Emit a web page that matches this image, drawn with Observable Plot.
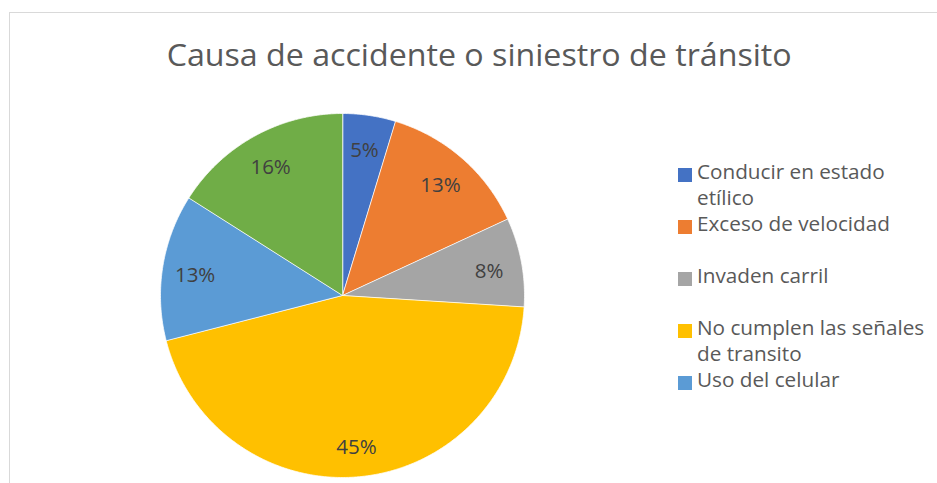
<!DOCTYPE html>
<html>
<head>
<meta charset="utf-8">
<script src="https://cdn.jsdelivr.net/npm/d3@7"></script>
<script src="https://cdn.jsdelivr.net/npm/@observablehq/plot@0.6"></script>
<style>
  html, body { margin: 0; padding: 0; background: #fff; overflow: hidden; }
  #wrap { position: relative; width: 937px; height: 483px; overflow: hidden; font-family: "Open Sans", sans-serif; }
  #frame { position: absolute; left: 9px; top: 12px; width: 1000px; height: 600px; border-left: 1.5px solid #d9d9d9; border-top: 1.5px solid #d9d9d9; box-sizing: border-box; }
  #chart { position: absolute; left: 0; top: 0; }
  #title { position: absolute; left: 11px; top: 39px; width: 937px; text-align: center; font-size: 31px; line-height: 31px; color: #595959; white-space: nowrap; }
  #title span { display: inline-block; transform-origin: center; }
  #legend { position: absolute; left: 678px; top: 150px; width: 259px; height: 252px; overflow: hidden; }
  .item { position: absolute; left: 0; }
  .sw { position: absolute; left: 0; width: 14px; height: 14px; }
  .lab { position: absolute; left: 19px; width: 238px; font-size: 21px; line-height: 26px; color: #595959; }
  #probe { position: absolute; visibility: hidden; white-space: nowrap; font-size: 21px; }
</style>
</head>
<body>
<div id="wrap">
  <div id="frame"></div>
  <div id="chart"></div>
  <div id="title"><span>Causa de accidente o siniestro de tránsito</span></div>
  <div id="legend"></div>
  <span id="probe">Exceso de velocidad</span>
</div>
<script>
// ---- data ----
const categories = [
  "Conducir en estado etílico",
  "Exceso de velocidad",
  "Invaden carril",
  "No cumplen las señales de transito",
  "Uso del celular",
  "Otros"
];
const shares = [4.7, 13.4, 7.9, 45.0, 13.0, 16.0];
const colors = ["#4472C4", "#ED7D31", "#A5A5A5", "#FFC000", "#5B9BD5", "#70AD47"];

// ---- build slice polygons (angles clockwise from 12 o'clock) ----
const total = d3.sum(shares);
const slices = [];
const labels = [];
let cum = 0;
categories.forEach((cat, i) => {
  const a0 = cum / total * 2 * Math.PI;
  cum += shares[i];
  const a1 = cum / total * 2 * Math.PI;
  slices.push({cat, x: 0, y: 0});
  const n = Math.max(2, Math.ceil((a1 - a0) / (Math.PI / 360)));
  for (let k = 0; k <= n; k++) {
    const t = a0 + (a1 - a0) * k / n;
    slices.push({cat, x: Math.sin(t), y: Math.cos(t)});
  }
  const am = (a0 + a1) / 2;
  labels.push({cat, x: 0.82 * Math.sin(am), y: 0.82 * Math.cos(am), text: Math.round(shares[i] / total * 100) + "%"});
});

const cx = 342, cy = 295, R = 182;
const plot = Plot.plot({
  width: 937,
  height: 483,
  margin: 0,
  style: {background: "transparent", overflow: "visible"},
  x: {domain: [-1, 1], range: [cx - R, cx + R], axis: null},
  y: {domain: [-1, 1], range: [cy + R, cy - R], axis: null},
  color: {domain: categories, range: colors},
  marks: [
    Plot.line(slices, {x: "x", y: "y", z: "cat", fill: "cat", stroke: "white", strokeWidth: 0.75, curve: "linear-closed"}),
    Plot.text(labels, {x: "x", y: "y", text: "text", fill: "#404040", fontSize: 20.5, fontFamily: "Open Sans", dy: 3})
  ]
});
document.getElementById("chart").appendChild(plot);

// ---- title fit ----
const tspan = document.querySelector("#title span");
const tw = tspan.getBoundingClientRect().width;
tspan.style.transform = `scaleX(${625 / tw})`;

// ---- legend font fit ----
const probe = document.getElementById("probe");
const fs = 21 * 193 / probe.getBoundingClientRect().width;

// ---- legend (entries beyond the legend box are clipped, as in the reference) ----
const legend = document.getElementById("legend");
const boxH = 252;
categories.forEach((cat, i) => {
  const top = 8 + i * 52;
  if (top + 26 > boxH) return;
  const item = document.createElement("div");
  item.className = "item";
  item.style.top = top + "px";
  const sw = document.createElement("div");
  sw.className = "sw";
  sw.style.top = "10px";
  sw.style.background = colors[i];
  const lab = document.createElement("div");
  lab.className = "lab";
  lab.style.top = "0px";
  lab.style.fontSize = fs + "px";
  lab.textContent = cat;
  item.appendChild(sw);
  item.appendChild(lab);
  legend.appendChild(item);
});
</script>
</body>
</html>
